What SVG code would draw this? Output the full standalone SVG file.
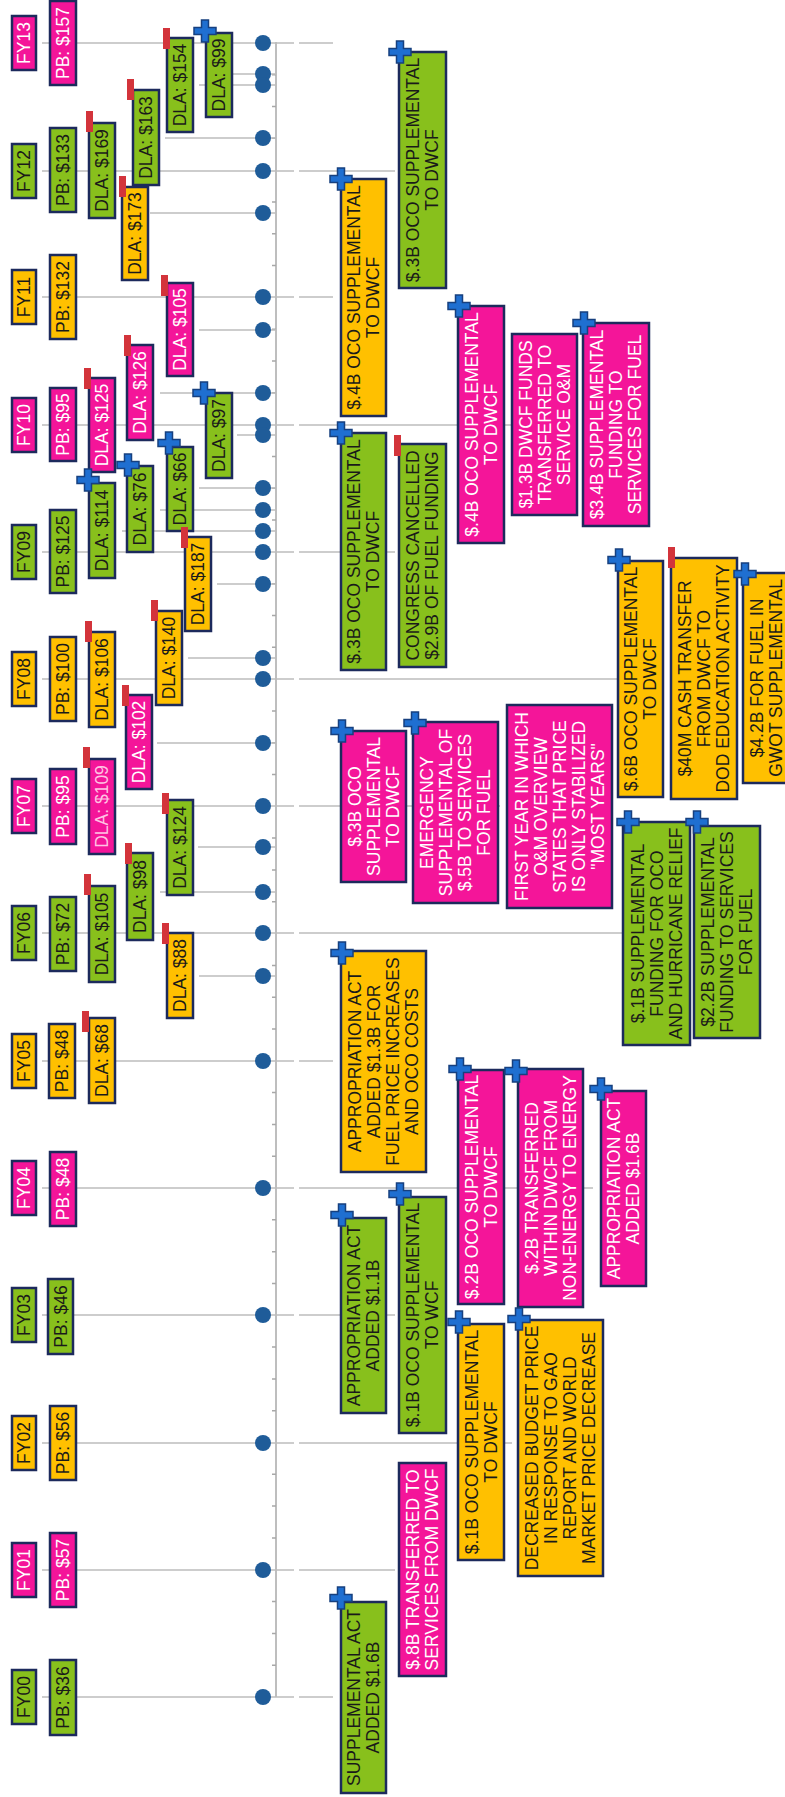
<svg xmlns="http://www.w3.org/2000/svg" xmlns:xlink="http://www.w3.org/1999/xlink" width="785" height="1797" viewBox="0 0 785 1797">
<style>
rect.b{stroke:#1C2A5C;stroke-width:2.5}
.g{fill:#88C01C}.o{fill:#FFC000}.p{fill:#F41599}
text{font-family:"Liberation Sans",Arial,sans-serif;font-size:17.5px;text-anchor:middle}
.dk{fill:#1a1a1a}.wt{fill:#ffffff}.lp{fill:#ffc2e3}
.grid{stroke:#BDBDBD;stroke-width:1.5;fill:none}
.axis{stroke:#A8A8A8;stroke-width:1.5;fill:none}
.dot{fill:#1F5C99}
</style>
<defs>
<path id="plus" d="M-3.5,-11h7v7.5h7.5v7h-7.5v7.5h-7v-7.5h-7.5v-7h7.5z" fill="#1F6FD1" stroke="#17407F" stroke-width="1.5"/>
<rect id="flag" width="7" height="21" fill="#D3343B"/>
</defs>
<rect width="785" height="1797" fill="#ffffff"/>
<g id="connectors">
<path class="axis" d="M276 42V1697"/>
<path class="axis" d="M272 1665.2h4M272 1633.4h4M272 1601.6h4M272 1537.9h4M272 1506.1h4M272 1474.3h4M272 1410.7h4M272 1378.9h4M272 1347.1h4M272 1283.5h4M272 1251.7h4M272 1219.8h4M272 1156.2h4M272 1124.4h4M272 1092.6h4M272 1029h4M272 997.2h4M272 965.4h4M272 901.8h4M272 869.9h4M272 838.1h4M272 774.5h4M272 742.7h4M272 710.9h4M272 647.3h4M272 615.5h4M272 583.7h4M272 520h4M272 488.2h4M272 456.4h4M272 392.8h4M272 361h4M272 329.2h4M272 265.6h4M272 233.7h4M272 201.9h4M272 138.3h4M272 106.5h4M272 74.7h4"/>
<path class="grid" d="M42 43H294M299 43H333M42 171H294M299 171H395M42 297H294M299 297H333M42 425H294M299 425H512M42 552H294M299 552H395M42 679H294M299 679H617M42 806H294M299 806H500M42 933H294M299 933H623M42 1061H294M299 1061H333M42 1188H294M299 1188H593M42 1315H294M299 1315H395M42 1443H294M299 1443H512M42 1570H294M299 1570H395M42 1697H294M299 1697H333"/>
<path class="grid" d="M233 74H276M199 85H276M165 138H276M150 213H276M199 330H276M160 393H276M237 435H276M199 488H276M160 510H276M122 531H276M217 584H276M188 658H276M157 743H276M198 847H276M160 892H276M199 976H276"/>
<g>
<circle class="dot" cx="263" cy="43" r="8"/><circle class="dot" cx="263" cy="74" r="8"/><circle class="dot" cx="263" cy="85" r="8"/><circle class="dot" cx="263" cy="138" r="8"/><circle class="dot" cx="263" cy="171" r="8"/><circle class="dot" cx="263" cy="213" r="8"/><circle class="dot" cx="263" cy="297" r="8"/><circle class="dot" cx="263" cy="330" r="8"/><circle class="dot" cx="263" cy="393" r="8"/><circle class="dot" cx="263" cy="425" r="8"/><circle class="dot" cx="263" cy="435" r="8"/><circle class="dot" cx="263" cy="488" r="8"/><circle class="dot" cx="263" cy="510" r="8"/><circle class="dot" cx="263" cy="531" r="8"/><circle class="dot" cx="263" cy="552" r="8"/><circle class="dot" cx="263" cy="584" r="8"/><circle class="dot" cx="263" cy="658" r="8"/><circle class="dot" cx="263" cy="679" r="8"/><circle class="dot" cx="263" cy="743" r="8"/><circle class="dot" cx="263" cy="806" r="8"/><circle class="dot" cx="263" cy="847" r="8"/><circle class="dot" cx="263" cy="892" r="8"/><circle class="dot" cx="263" cy="933" r="8"/><circle class="dot" cx="263" cy="976" r="8"/><circle class="dot" cx="263" cy="1061" r="8"/><circle class="dot" cx="263" cy="1188" r="8"/><circle class="dot" cx="263" cy="1315" r="8"/><circle class="dot" cx="263" cy="1443" r="8"/><circle class="dot" cx="263" cy="1570" r="8"/><circle class="dot" cx="263" cy="1697" r="8"/>
</g>
</g>
<!-- FY labels -->
<g id="fy13"><rect class="b p" x="12" y="16" width="24" height="54"/><text class="wt" transform="translate(24,43) rotate(-90)" y="6">FY13</text></g>
<g id="fy12"><rect class="b g" x="12" y="144" width="24" height="54"/><text class="dk" transform="translate(24,171) rotate(-90)" y="6">FY12</text></g>
<g id="fy11"><rect class="b o" x="12" y="270" width="24" height="54"/><text class="dk" transform="translate(24,297) rotate(-90)" y="6">FY11</text></g>
<g id="fy10"><rect class="b p" x="12" y="398" width="24" height="54"/><text class="wt" transform="translate(24,425) rotate(-90)" y="6">FY10</text></g>
<g id="fy09"><rect class="b g" x="12" y="525" width="24" height="54"/><text class="dk" transform="translate(24,552) rotate(-90)" y="6">FY09</text></g>
<g id="fy08"><rect class="b o" x="12" y="652" width="24" height="54"/><text class="dk" transform="translate(24,679) rotate(-90)" y="6">FY08</text></g>
<g id="fy07"><rect class="b p" x="12" y="779" width="24" height="54"/><text class="wt" transform="translate(24,806) rotate(-90)" y="6">FY07</text></g>
<g id="fy06"><rect class="b g" x="12" y="906" width="24" height="54"/><text class="dk" transform="translate(24,933) rotate(-90)" y="6">FY06</text></g>
<g id="fy05"><rect class="b o" x="12" y="1034" width="24" height="54"/><text class="dk" transform="translate(24,1061) rotate(-90)" y="6">FY05</text></g>
<g id="fy04"><rect class="b p" x="12" y="1161" width="24" height="54"/><text class="wt" transform="translate(24,1188) rotate(-90)" y="6">FY04</text></g>
<g id="fy03"><rect class="b g" x="12" y="1288" width="24" height="54"/><text class="dk" transform="translate(24,1315) rotate(-90)" y="6">FY03</text></g>
<g id="fy02"><rect class="b o" x="12" y="1416" width="24" height="54"/><text class="dk" transform="translate(24,1443) rotate(-90)" y="6">FY02</text></g>
<g id="fy01"><rect class="b p" x="12" y="1543" width="24" height="54"/><text class="wt" transform="translate(24,1570) rotate(-90)" y="6">FY01</text></g>
<g id="fy00"><rect class="b g" x="12" y="1670" width="24" height="54"/><text class="dk" transform="translate(24,1697) rotate(-90)" y="6">FY00</text></g>
<!-- PB labels -->
<g id="pb13"><rect class="b p" x="50" y="1" width="26" height="84"/><text class="wt" transform="translate(63,43) rotate(-90)" y="6">PB: $157</text></g>
<g id="pb12"><rect class="b g" x="50" y="128" width="26" height="84"/><text class="dk" transform="translate(63,170) rotate(-90)" y="6">PB: $133</text></g>
<g id="pb11"><rect class="b o" x="50" y="255" width="26" height="84"/><text class="dk" transform="translate(63,297) rotate(-90)" y="6">PB: $132</text></g>
<g id="pb10"><rect class="b p" x="50" y="388" width="26" height="73"/><text class="wt" transform="translate(63,424.5) rotate(-90)" y="6">PB: $95</text></g>
<g id="pb09"><rect class="b g" x="50" y="510" width="26" height="83"/><text class="dk" transform="translate(63,551.5) rotate(-90)" y="6">PB: $125</text></g>
<g id="pb08"><rect class="b o" x="50" y="637" width="26" height="84"/><text class="dk" transform="translate(63,679) rotate(-90)" y="6">PB: $100</text></g>
<g id="pb07"><rect class="b p" x="50" y="769" width="26" height="75"/><text class="wt" transform="translate(63,806.5) rotate(-90)" y="6">PB: $95</text></g>
<g id="pb06"><rect class="b g" x="50" y="897" width="26" height="74"/><text class="dk" transform="translate(63,934) rotate(-90)" y="6">PB: $72</text></g>
<g id="pb05"><rect class="b o" x="49" y="1024" width="26" height="74"/><text class="dk" transform="translate(62,1061) rotate(-90)" y="6">PB: $48</text></g>
<g id="pb04"><rect class="b p" x="50" y="1152" width="26" height="74"/><text class="wt" transform="translate(63,1189) rotate(-90)" y="6">PB: $48</text></g>
<g id="pb03"><rect class="b g" x="48" y="1279" width="25" height="75"/><text class="dk" transform="translate(60.5,1316.5) rotate(-90)" y="6">PB: $46</text></g>
<g id="pb02"><rect class="b o" x="50" y="1406" width="26" height="74"/><text class="dk" transform="translate(63,1443) rotate(-90)" y="6">PB: $56</text></g>
<g id="pb01"><rect class="b p" x="50" y="1533" width="26" height="74"/><text class="wt" transform="translate(63,1570) rotate(-90)" y="6">PB: $57</text></g>
<g id="pb00"><rect class="b g" x="50" y="1660" width="26" height="75"/><text class="dk" transform="translate(63,1697.5) rotate(-90)" y="6">PB: $36</text></g>
<!-- DLA labels -->
<g id="dla154"><rect class="b g" x="167" y="38" width="26" height="94"/><text class="dk" transform="translate(180,85) rotate(-90)" y="6">DLA: $154</text><use xlink:href="#flag" x="163" y="28"/></g>
<g id="dla99"><rect class="b g" x="206" y="33" width="26" height="84"/><text class="dk" transform="translate(219,75) rotate(-90)" y="6">DLA: $99</text><use xlink:href="#plus" x="205" y="31"/></g>
<g id="dla163"><rect class="b g" x="133" y="90" width="26" height="95"/><text class="dk" transform="translate(146,137.5) rotate(-90)" y="6">DLA: $163</text><use xlink:href="#flag" x="127" y="79"/></g>
<g id="dla169"><rect class="b g" x="89" y="123" width="26" height="95"/><text class="dk" transform="translate(102,170.5) rotate(-90)" y="6">DLA: $169</text><use xlink:href="#flag" x="86" y="111"/></g>
<g id="dla173"><rect class="b o" x="122" y="187" width="26" height="93"/><text class="dk" transform="translate(135,233.5) rotate(-90)" y="6">DLA: $173</text><use xlink:href="#flag" x="119" y="176"/></g>
<g id="dla105a"><rect class="b p" x="167" y="283" width="26" height="93"/><text class="wt" transform="translate(180,329.5) rotate(-90)" y="6">DLA: $105</text><use xlink:href="#flag" x="161" y="275"/></g>
<g id="dla126"><rect class="b p" x="127" y="345" width="26" height="95"/><text class="wt" transform="translate(140,392.5) rotate(-90)" y="6">DLA: $126</text><use xlink:href="#flag" x="124" y="335"/></g>
<g id="dla125"><rect class="b p" x="89" y="378" width="26" height="94"/><text class="wt" transform="translate(102,425) rotate(-90)" y="6">DLA: $125</text><use xlink:href="#flag" x="84" y="368"/></g>
<g id="dla97"><rect class="b g" x="206" y="393" width="26" height="85"/><text class="dk" transform="translate(219,435.5) rotate(-90)" y="6">DLA: $97</text><use xlink:href="#plus" x="204" y="393"/></g>
<g id="dla114"><rect class="b g" x="89" y="483" width="26" height="95"/><text class="dk" transform="translate(102,530.5) rotate(-90)" y="6">DLA: $114</text><use xlink:href="#plus" x="88" y="480"/></g>
<g id="dla76"><rect class="b g" x="127" y="466" width="26" height="86"/><text class="dk" transform="translate(140,509) rotate(-90)" y="6">DLA: $76</text><use xlink:href="#plus" x="128" y="465"/></g>
<g id="dla66"><rect class="b g" x="167" y="447" width="26" height="84"/><text class="dk" transform="translate(180,489) rotate(-90)" y="6">DLA: $66</text><use xlink:href="#plus" x="169" y="443"/></g>
<g id="dla187"><rect class="b o" x="185" y="537" width="26" height="94"/><text class="dk" transform="translate(198,584) rotate(-90)" y="6">DLA: $187</text><use xlink:href="#flag" x="181" y="527"/></g>
<g id="dla106"><rect class="b o" x="89" y="632" width="26" height="95"/><text class="dk" transform="translate(102,679.5) rotate(-90)" y="6">DLA: $106</text><use xlink:href="#flag" x="85" y="621"/></g>
<g id="dla140"><rect class="b o" x="156" y="611" width="26" height="94"/><text class="dk" transform="translate(169,658) rotate(-90)" y="6">DLA: $140</text><use xlink:href="#flag" x="151" y="600"/></g>
<g id="dla102"><rect class="b p" x="126" y="695" width="26" height="94"/><text class="wt" transform="translate(139,742) rotate(-90)" y="6">DLA: $102</text><use xlink:href="#flag" x="122" y="685"/></g>
<g id="dla109"><rect class="b p" x="89" y="759" width="26" height="95"/><text class="lp" transform="translate(102,806.5) rotate(-90)" y="6">DLA: $109</text><use xlink:href="#flag" x="83" y="747"/></g>
<g id="dla124"><rect class="b g" x="167" y="800" width="26" height="95"/><text class="dk" transform="translate(180,847.5) rotate(-90)" y="6">DLA: $124</text><use xlink:href="#flag" x="162" y="793"/></g>
<g id="dla105b"><rect class="b g" x="89" y="886" width="26" height="96"/><text class="dk" transform="translate(102,934) rotate(-90)" y="6">DLA: $105</text><use xlink:href="#flag" x="84" y="874"/></g>
<g id="dla98"><rect class="b g" x="127" y="853" width="26" height="87"/><text class="dk" transform="translate(140,896.5) rotate(-90)" y="6">DLA: $98</text><use xlink:href="#flag" x="125" y="843"/></g>
<g id="dla88"><rect class="b o" x="167" y="933" width="26" height="85"/><text class="dk" transform="translate(180,975.5) rotate(-90)" y="6">DLA: $88</text><use xlink:href="#flag" x="162" y="923"/></g>
<g id="dla68"><rect class="b o" x="89" y="1018" width="26" height="85"/><text class="dk" transform="translate(102,1060.5) rotate(-90)" y="6">DLA: $68</text><use xlink:href="#flag" x="82" y="1011"/></g>
<!-- Event boxes -->
<g id="e1"><rect class="b g" x="399" y="52" width="47" height="236"/><text class="dk" transform="translate(422.5,170) rotate(-90)"><tspan x="0" y="-3.5">$.3B OCO SUPPLEMENTAL</tspan><tspan x="0" y="15.5">TO DWCF</tspan></text><use xlink:href="#plus" x="400" y="52"/></g>
<g id="e2"><rect class="b o" x="341" y="179" width="45" height="237"/><text class="dk" transform="translate(363.5,297.5) rotate(-90)"><tspan x="0" y="-3.5">$.4B OCO SUPPLEMENTAL</tspan><tspan x="0" y="15.5">TO DWCF</tspan></text><use xlink:href="#plus" x="341" y="179"/></g>
<g id="e3"><rect class="b p" x="458" y="306" width="46" height="237"/><text class="wt" transform="translate(481,424.5) rotate(-90)"><tspan x="0" y="-3.5">$.4B OCO SUPPLEMENTAL</tspan><tspan x="0" y="15.5">TO DWCF</tspan></text><use xlink:href="#plus" x="459" y="306"/></g>
<g id="e4"><rect class="b p" x="512" y="334" width="65" height="181"/><text class="wt" transform="translate(544.5,424.5) rotate(-90)"><tspan x="0" y="-13">$1.3B DWCF FUNDS</tspan><tspan x="0" y="6">TRANSFERRED TO</tspan><tspan x="0" y="25">SERVICE O&amp;M</tspan></text></g>
<g id="e5"><rect class="b p" x="583" y="323" width="66" height="203"/><text class="wt" transform="translate(616,424.5) rotate(-90)"><tspan x="0" y="-13">$3.4B SUPPLEMENTAL</tspan><tspan x="0" y="6">FUNDING TO</tspan><tspan x="0" y="25">SERVICES FOR FUEL</tspan></text><use xlink:href="#plus" x="584" y="323"/></g>
<g id="e6"><rect class="b g" x="341" y="433" width="45" height="237"/><text class="dk" transform="translate(363.5,551.5) rotate(-90)"><tspan x="0" y="-3.5">$.3B OCO SUPPLEMENTAL</tspan><tspan x="0" y="15.5">TO DWCF</tspan></text><use xlink:href="#plus" x="341" y="433"/></g>
<g id="e7"><rect class="b g" x="399" y="444" width="47" height="223"/><text class="dk" transform="translate(422.5,555.5) rotate(-90)"><tspan x="0" y="-3.5">CONGRESS CANCELLED</tspan><tspan x="0" y="15.5">$2.9B OF FUEL FUNDING</tspan></text><use xlink:href="#flag" x="394" y="435"/></g>
<g id="e8"><rect class="b o" x="618" y="561" width="45" height="236"/><text class="dk" transform="translate(640.5,679) rotate(-90)"><tspan x="0" y="-3.5">$.6B OCO SUPPLEMENTAL</tspan><tspan x="0" y="15.5">TO DWCF</tspan></text><use xlink:href="#plus" x="619" y="560"/></g>
<g id="e9"><rect class="b o" x="671" y="558" width="66" height="241"/><text class="dk" transform="translate(704,678.5) rotate(-90)"><tspan x="0" y="-13">$40M CASH TRANSFER</tspan><tspan x="0" y="6">FROM DWCF TO</tspan><tspan x="0" y="25">DOD EDUCATION ACTIVITY</tspan></text><use xlink:href="#flag" x="668" y="547"/></g>
<g id="e10"><rect class="b o" x="743" y="573" width="46" height="210"/><text class="dk" transform="translate(766,678) rotate(-90)"><tspan x="0" y="-3.5">$4.2B FOR FUEL IN</tspan><tspan x="0" y="15.5">GWOT SUPPLEMENTAL</tspan></text><use xlink:href="#plus" x="745" y="574"/></g>
<g id="e11"><rect class="b p" x="341" y="731" width="65" height="151"/><text class="wt" transform="translate(373.5,806.5) rotate(-90)"><tspan x="0" y="-13">$.3B OCO</tspan><tspan x="0" y="6">SUPPLEMENTAL</tspan><tspan x="0" y="25">TO DWCF</tspan></text><use xlink:href="#plus" x="342" y="731"/></g>
<g id="e12"><rect class="b p" x="413" y="722" width="85" height="181"/><text class="wt" transform="translate(455.5,812.5) rotate(-90)"><tspan x="0" y="-22.5">EMERGENCY</tspan><tspan x="0" y="-3.5">SUPPLEMENTAL OF</tspan><tspan x="0" y="15.5">$.5B TO SERVICES</tspan><tspan x="0" y="34.5">FOR FUEL</tspan></text><use xlink:href="#plus" x="415" y="723"/></g>
<g id="e13"><rect class="b p" x="507" y="705" width="105" height="203"/><text class="wt" transform="translate(559.5,806.5) rotate(-90)"><tspan x="0" y="-32">FIRST YEAR IN WHICH</tspan><tspan x="0" y="-13">O&amp;M OVERVIEW</tspan><tspan x="0" y="6">STATES THAT PRICE</tspan><tspan x="0" y="25">IS ONLY STABILIZED</tspan><tspan x="0" y="44">"MOST YEARS"</tspan></text></g>
<g id="e14"><rect class="b g" x="623" y="822" width="67" height="223"/><text class="dk" transform="translate(656.5,933.5) rotate(-90)"><tspan x="0" y="-13">$.1B SUPPLEMENTAL</tspan><tspan x="0" y="6">FUNDING FOR OCO</tspan><tspan x="0" y="25">AND HURRICANE RELIEF</tspan></text><use xlink:href="#plus" x="628" y="822"/></g>
<g id="e15"><rect class="b g" x="694" y="826" width="66" height="212"/><text class="dk" transform="translate(727,932) rotate(-90)"><tspan x="0" y="-13">$2.2B SUPPLEMENTAL</tspan><tspan x="0" y="6">FUNDING TO SERVICES</tspan><tspan x="0" y="25">FOR FUEL</tspan></text><use xlink:href="#plus" x="697" y="822"/></g>
<g id="e16"><rect class="b o" x="341" y="951" width="85" height="221"/><text class="dk" transform="translate(383.5,1061.5) rotate(-90)"><tspan x="0" y="-22.5">APPROPRIATION ACT</tspan><tspan x="0" y="-3.5">ADDED $1.3B FOR</tspan><tspan x="0" y="15.5">FUEL PRICE INCREASES</tspan><tspan x="0" y="34.5">AND OCO COSTS</tspan></text><use xlink:href="#plus" x="342" y="953"/></g>
<g id="e17"><rect class="b p" x="458" y="1070" width="46" height="234"/><text class="wt" transform="translate(481,1187) rotate(-90)"><tspan x="0" y="-3.5">$.2B OCO SUPPLEMENTAL</tspan><tspan x="0" y="15.5">TO DWCF</tspan></text><use xlink:href="#plus" x="460" y="1069"/></g>
<g id="e18"><rect class="b p" x="518" y="1069" width="65" height="238"/><text class="wt" transform="translate(550.5,1188) rotate(-90)"><tspan x="0" y="-13">$.2B TRANSFERRED</tspan><tspan x="0" y="6">WITHIN DWCF FROM</tspan><tspan x="0" y="25">NON-ENERGY TO ENERGY</tspan></text><use xlink:href="#plus" x="516" y="1071"/></g>
<g id="e19"><rect class="b p" x="601" y="1091" width="45" height="195"/><text class="wt" transform="translate(623.5,1188.5) rotate(-90)"><tspan x="0" y="-3.5">APPROPRIATION ACT</tspan><tspan x="0" y="15.5">ADDED $1.6B</tspan></text><use xlink:href="#plus" x="601" y="1089"/></g>
<g id="e20"><rect class="b g" x="341" y="1218" width="45" height="195"/><text class="dk" transform="translate(363.5,1315.5) rotate(-90)"><tspan x="0" y="-3.5">APPROPRIATION ACT</tspan><tspan x="0" y="15.5">ADDED $1.1B</tspan></text><use xlink:href="#plus" x="342" y="1215"/></g>
<g id="e21"><rect class="b g" x="399" y="1197" width="47" height="236"/><text class="dk" transform="translate(422.5,1315) rotate(-90)"><tspan x="0" y="-3.5">$.1B OCO SUPPLEMENTAL</tspan><tspan x="0" y="15.5">TO WCF</tspan></text><use xlink:href="#plus" x="400" y="1194"/></g>
<g id="e22"><rect class="b o" x="458" y="1324" width="46" height="236"/><text class="dk" transform="translate(481,1442) rotate(-90)"><tspan x="0" y="-3.5">$.1B OCO SUPPLEMENTAL</tspan><tspan x="0" y="15.5">TO DWCF</tspan></text><use xlink:href="#plus" x="459" y="1322"/></g>
<g id="e23"><rect class="b o" x="518" y="1320" width="85" height="256"/><text class="dk" transform="translate(560.5,1448) rotate(-90)"><tspan x="0" y="-22.5">DECREASED BUDGET PRICE</tspan><tspan x="0" y="-3.5">IN RESPONSE TO GAO</tspan><tspan x="0" y="15.5">REPORT AND WORLD</tspan><tspan x="0" y="34.5">MARKET PRICE DECREASE</tspan></text><use xlink:href="#plus" x="519" y="1319"/></g>
<g id="e24"><rect class="b p" x="399" y="1463" width="47" height="213"/><text class="wt" transform="translate(422.5,1569.5) rotate(-90)"><tspan x="0" y="-3.5">$.8B TRANSFERRED TO</tspan><tspan x="0" y="15.5">SERVICES FROM DWCF</tspan></text></g>
<g id="e25"><rect class="b g" x="341" y="1602" width="45" height="191"/><text class="dk" transform="translate(363.5,1697.5) rotate(-90)"><tspan x="0" y="-3.5">SUPPLEMENTAL ACT</tspan><tspan x="0" y="15.5">ADDED $1.6B</tspan></text><use xlink:href="#plus" x="341" y="1598"/></g>
</svg>
